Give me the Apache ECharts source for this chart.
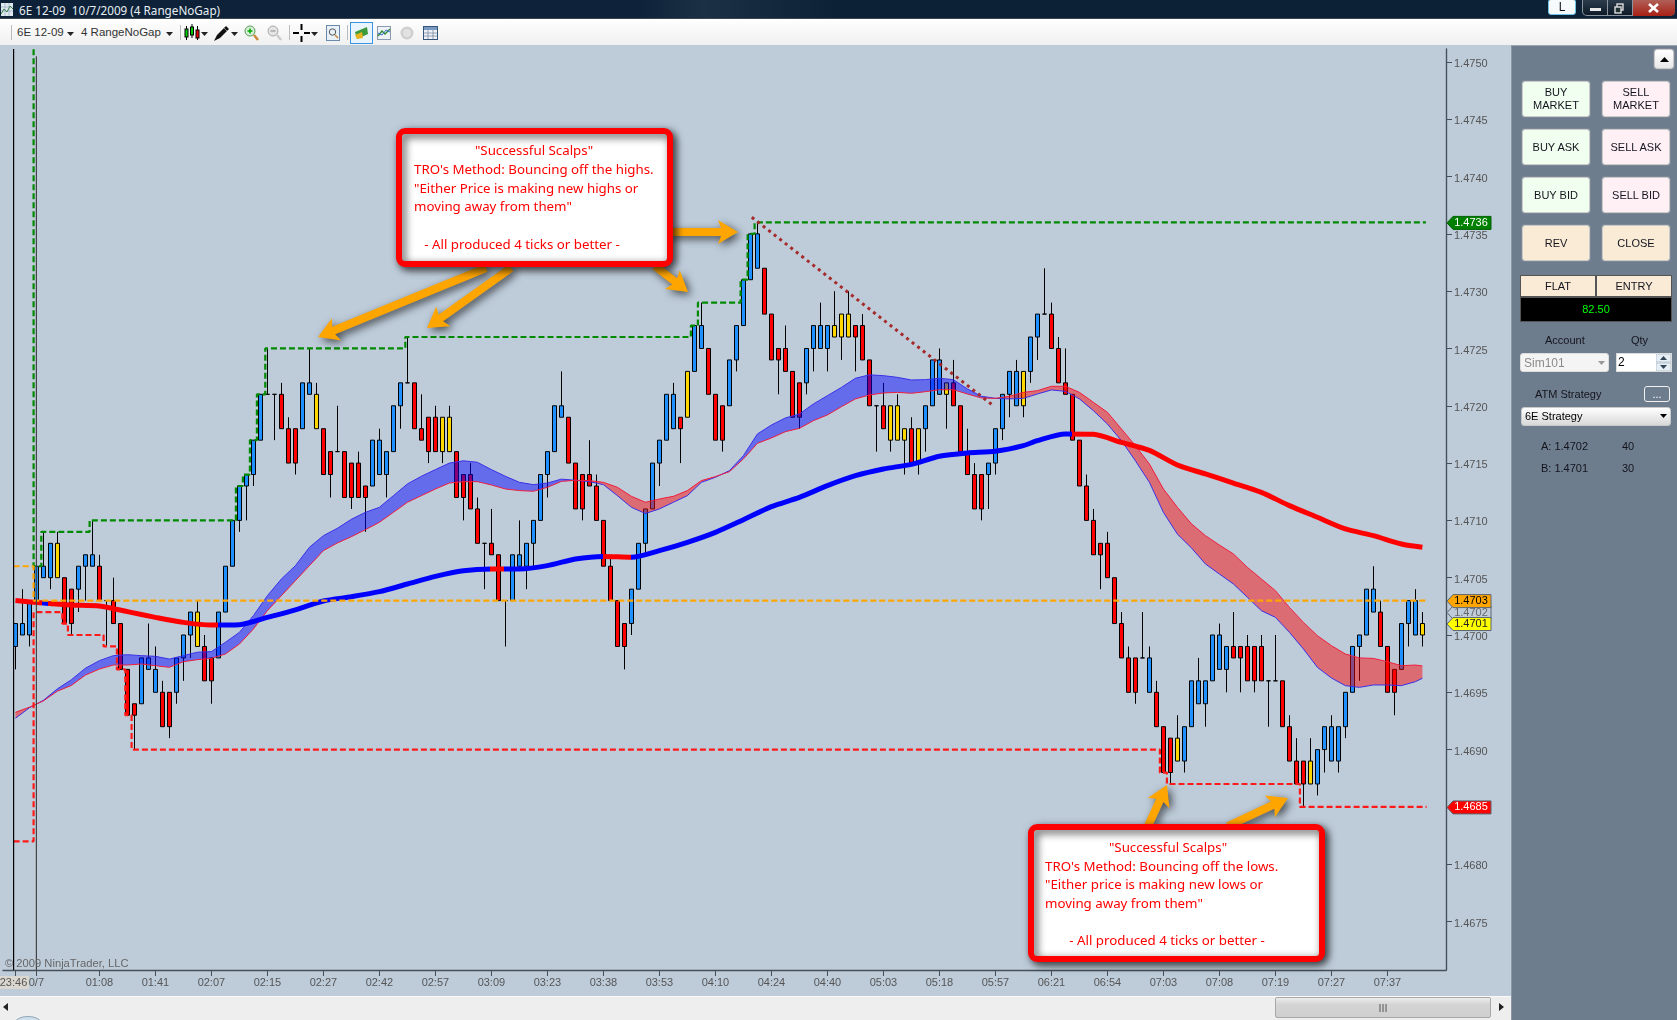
<!DOCTYPE html>
<html><head><meta charset="utf-8">
<script src="https://cdn.jsdelivr.net/npm/echarts@6/dist/echarts.min.js"></script>
<style>
html,body{margin:0;padding:0;width:1677px;height:1020px;overflow:hidden;background:#BECCDA;font-family:"Liberation Sans",Arial,sans-serif}
#chart{position:absolute;left:0;top:0;width:1677px;height:1020px;z-index:1}
.c{position:absolute;z-index:2;box-sizing:border-box}
.t{position:absolute;z-index:3;white-space:nowrap;color:#14141e;font-size:11px;line-height:13px}
.t svg{display:block}
.b{position:absolute;z-index:3;box-sizing:border-box;border:1px solid #c9c9c9;border-radius:3px;box-shadow:0 0 0 1px #7c8896;color:#14141e;font-size:11px;line-height:13px;text-align:center;display:flex;align-items:center;justify-content:center}
</style></head><body>
<div id="chart"></div>
<div id="chrome"></div>
<script>
// ---- values (price = 1.4700 + ticks/10000) ----
const priceBase = 1.47;
const openTicks = [
-1,0,0,3,5,5,5,5,4,4, 6,6,6,3,3,1,-3,-6,-6,-3, -5,-5,-5,-5,-2,0,-1,-1,-2,-2,
2,6,10,13,14,17,21,21,21,18, 18,18,21,18,18,16,16,16,15,15, 13,13,14,14,16,20,22,22,18,19,
19,16,16,16,14,14,11,8,8,7, 3,3,6,6,8,10,14,16,19,19, 15,14,14,13,10,6,3,1,1,4,
8,11,15,17,18,19,19,23,25,25, 21,20,20,24,27,31,32,32,28,25, 25,23,22,22,25,25,25,26,26,26,
27,27,24,20,20,17,17,17,18,15, 18,20,21,21,22,20,16,14,14,14, 15,18,21,20,20,23,26,28,28,25,
22,21,17,13,10,8,8,5,1,-2, -2,-2,-5,-5,-8,-9,-11,-11,-8,-6, -6,-4,-3,-3,-1,-1,-1,-1,-1,-4,
-4,-4,-8,-11,-11,-13,-13,-10,-11,-11, -8,-5,-1,0,2,2,-1,-3,-3,1, 0,1];
const closeTicks = [
1,1,3,6,6,8,8,1,1,6, 7,7,3,3,1,-3,-7,-7,-2,-2, -3,-8,-8,-2,0,2,2,-4,-4,2,
6,10,13,14,17,21,21,21,18,15, 15,22,22,21,14,14,16,12,12,12, 12,17,17,16,20,22,22,18,17,16,
16,19,19,12,12,11,8,8,7,3, 3,7,7,8,10,14,16,20,20,15, 11,11,13,10,6,3,-1,-1,4,8,
11,15,17,21,21,18,23,27,27,21, 17,17,24,27,31,35,35,28,24,24, 23,19,19,25,27,27,27,27,28,28,
26,24,20,20,18,20,20,18,15,18, 20,24,24,22,20,16,14,11,11,15, 18,21,23,23,23,26,28,28,25,22,
21,17,13,10,7,7,5,1,-2,-5, -5,-2,-2,-8,-12,-12,-9,-8,-4,-4, -4,0,0,-1,-2,-2,-4,-4,-4,-4,
-4,-8,-11,-13,-13,-11,-10,-8,-8,-8, -5,-1,0,4,4,-1,-5,-5,1,3, 3,0];
const highTicks = [
1,4,3,6,9,8,9,5,4,6, 7,10,7,3,5,1,-3,-6,-2,1, -1,-4,-5,-2,0,2,3,0,-2,2,
6,10,13,14,17,21,25,21,22,19, 18,22,25,22,18,16,20,16,15,16, 13,17,18,16,20,22,26,22,21,19,
20,19,20,16,14,15,12,8,11,7, 3,7,10,8,10,14,16,20,23,19, 15,14,17,14,10,7,3,1,4,8,
11,15,17,21,22,19,23,27,29,25, 21,20,24,27,31,35,36,32,28,25, 27,23,22,25,27,29,27,30,28,30,
27,28,24,20,22,20,21,18,19,18, 20,24,25,22,24,20,18,15,14,15, 18,21,23,24,23,26,28,32,29,26,
25,21,17,14,11,8,9,5,2,-1, -2,2,-1,-4,-8,-9,-7,-8,-4,-2, -4,0,1,-1,2,-1,0,-1,0,-4,
0,-4,-7,-9,-11,-9,-10,-8,-7,-8, -5,-1,0,4,6,3,-1,-3,1,3, 4,2];
const lowTicks = [
-3,0,-1,3,5,4,5,1,0,2, 3,6,3,-1,1,-3,-7,-10,-6,-3, -5,-8,-9,-6,-4,-2,-1,-4,-6,-2,
2,6,9,10,13,17,21,17,18,15, 14,18,21,18,14,12,16,12,11,12, 9,13,14,12,16,18,22,18,17,15,
16,15,16,12,10,11,8,4,7,3, -1,3,6,4,6,10,12,16,19,15, 11,10,13,10,6,3,-1,-3,0,4,
7,11,13,17,18,15,19,23,25,21, 17,16,20,23,27,31,32,28,24,21, 23,19,18,21,23,25,23,26,24,26,
23,24,20,16,18,16,17,14,15,14, 16,20,21,18,20,16,14,11,10,11, 14,17,19,20,19,22,24,28,25,22,
21,17,13,10,7,4,5,1,-2,-5, -6,-2,-5,-8,-12,-13,-11,-12,-8,-6, -8,-4,-3,-5,-2,-5,-4,-5,-4,-8,
-4,-8,-11,-13,-15,-13,-14,-12,-11,-12, -9,-5,-4,0,2,-1,-5,-7,-3,-1, 0,-1];
const goldBars = [6,26,43,61,62,96,117,118,119,125,126,127,129,133,144,166,185,201];

const tickBars = [0,3,12,20,28,36,44,52,60,68,76,84,92,100,108,116,124,132,140,148,156,164,172,180,188,196];
const tickLabels = ['23:46','0/7','01:08','01:41','02:07','02:15','02:27','02:42','02:57','03:09','03:23','03:38','03:53','04:10','04:24','04:40','05:03','05:18','05:57','06:21','06:54','07:03','07:08','07:19','07:27','07:37'];
const priceTicks = [1.4750,1.4745,1.4740,1.4735,1.4730,1.4725,1.4720,1.4715,1.4710,1.4705,1.4700,1.4695,1.4690,1.4685,1.4680,1.4675];

// ribbon edges, sampled at these bars
const bandBars = [0,2,4,6,8,10,12,14,16,18,20,22,24,26,28,30,32,34,36,38,40,42,44,46,48,50,52,54,56,58,60,62,64,66,68,70,72,74,76,78,80,82,84,86,88,90,92,94,96,98,100,102,104,106,108,110,112,114,116,118,120,122,124,126,128,130,132,134,136,138,140,142,144,146,148,150,152,154,156,158,160,162,164,166,168,170,172,174,176,178,180,182,184,186,188,190,192,194,196,198,200,201];
const bandFast = [-7.27,-6.35,-5.7,-4.7,-3.9,-2.9,-2.24,-1.8,-1.72,-1.8,-1.86,-2.1,-1.8,-1.5,-1.45,-.64,.23,1.69,3.43,4.89,6.05,7.65,8.67,9.31,10.1,10.7,11.14,12.16,13.18,13.85,14.43,15,15.2,15.07,14.43,13.85,13.32,13.12,13.26,13.6,13.5,13.38,13.12,12.16,11.14,10.6,11,11.58,12.16,13.32,13.76,14.34,15.65,17.54,18.32,18.94,19.28,20.16,20.88,21.6,22.4,22.7,22.63,22.48,22.25,22.28,22.4,22.28,21.47,20.83,20.65,20.6,20.65,21.03,21.38,21.26,20.6,19.57,18.41,16.96,15.2,13.32,10.7,8.8,7.6,6.2,5.32,4.45,3.29,2.12,1.54,.23,-1.22,-2.82,-3.75,-4.42,-4.57,-4.36,-4.36,-4.42,-4.07,-3.78];
const bandSlow = [-6.75,-6.3,-5.75,-4.9,-4.4,-3.5,-2.97,-2.62,-2.62,-2.53,-2.68,-2.82,-2.33,-2.15,-2.04,-1.66,-.79,.52,2.12,3.43,4.74,6.05,7.36,8.03,8.58,9.19,9.83,10.7,11.58,12.16,12.74,13.26,13.38,13.38,13.09,12.74,12.6,12.54,12.89,13.4,13.5,13.47,13.32,12.89,12.1,11.58,11.87,12.1,12.6,13.47,13.82,14.25,15.36,16.72,17.19,17.74,18.03,18.7,19.2,19.92,20.6,20.94,21.12,21.17,21.09,21.23,21.4,21.4,21.03,20.68,20.65,20.83,21.17,21.32,21.7,21.7,21.17,20.3,19.43,17.98,16.52,14.92,12.74,11.14,9.7,8.67,7.85,7.07,5.9,4.89,3.87,2.41,1.1,-.06,-.93,-1.66,-2,-2.04,-2.33,-2.68,-2.62,-2.7];

// thick moving average, sampled at these bars
const maBars = [0,4,8,12,16,20,24,28,32,36,40,44,48,52,56,60,64,68,72,76,80,84,88,92,96,100,104,108,112,116,120,124,128,132,136,140,144,146,150,154,158,162,166,170,174,178,182,186,190,194,198,201];
const maTicks = [3,2.79,2.62,2.53,2.04,1.54,1.1,.87,.9,1.54,2.2,2.97,3.34,3.78,4.45,5.12,5.61,5.76,5.76,6.05,6.63,6.86,6.78,7.36,8.09,8.96,10.06,11.2,12.01,13.03,13.9,14.49,14.89,15.59,15.88,16.03,16.52,16.96,17.54,17.51,16.81,16.11,14.83,14.05,13.26,12.45,11.29,10.27,9.25,8.67,7.94,7.65];

// stepped high / low / reference levels: bar and level in ticks
const highStepBars = [2.6,2.6,3.7,10.6,31.5,32.5,33.5,34.5,35.7,55.7,96.5,97.5,103.6,104.6,105.6,201.5];
const highStepTicks = [51.1,6,9,10,13,14,17,21,25,26,27,29,31,35,36,36];
const lowStepBars = [-0.25,2.6,6.7,7.5,12.6,14.5,15.7,16.6,163.5,164.5,183.5,201.6];
const lowStepTicks = [-18,2,1,0,-1,-3,-7,-10,-12,-13,-15,-15];
const refStepBars = [-0.25,2.6,201.6];
const refStepTicks = [6,3,3];
const trendBars = [105.2,139.8];
const trendTicks = [36.45,19.96];

const tagPrices = [1.4736,1.4702,1.4703,1.4701,1.4685];
const tagFills  = ['#008000','#BECCDA','#FFA500','#FFFF00','#FF0000'];
const tagInk    = ['#fff','#666','#000','#222','#fff'];

const topNote = ['"Successful Scalps"',"TRO's Method: Bouncing off the highs.",'"Either Price is making new highs or','moving away from them"','- All produced 4 ticks or better -'];
const lowNote = ['"Successful Scalps"',"TRO's Method: Bouncing off the lows.",'"Either price is making new lows or','moving away from them"','- All produced 4 ticks or better -'];

// ---- helpers ----
const P = n => priceBase + n/10000;
const zip = (xs,ns) => xs.map((x,k)=>[x,P(ns[k])]);
const FONT = '"Liberation Sans",Arial,sans-serif';
const xMin = -1.771, xMax = 204.37, yMin = 1.467077, yMax = 1.475113;

const candleData = openTicks.map((o,i)=>{
  const gold = goldBars.includes(i);
  const item = {value:[i,P(o),P(closeTicks[i]),P(lowTicks[i]),P(highTicks[i])]};
  if(gold) item.itemStyle={color:'#FFD700',color0:'#FFD700'};
  return item;
});

// ribbon runs: one polygon per stretch with the same edge on top
const runs=[]; (function(){
  let cur=null;
  bandBars.forEach((b,k)=>{
    const a=bandFast[k], s=bandSlow[k], up=a>=s;
    if(cur && cur.up!==up){
      const pb=bandBars[k-1], pa=bandFast[k-1], ps=bandSlow[k-1];
      const d0=pa-ps, d1=a-s, t=d0/(d0-d1);
      const cx=pb+(b-pb)*t, cy=pa+(a-pa)*t;
      cur.f.push([cx,P(cy)]); cur.s.push([cx,P(cy)]);
      runs.push(cur);
      cur={up,f:[[cx,P(cy)]],s:[[cx,P(cy)]]};
    }
    if(!cur) cur={up,f:[],s:[]};
    cur.f.push([b,P(a)]); cur.s.push([b,P(s)]);
  });
  runs.push(cur);
})();

const maSeg=[{lt:3.8,color:'#F00'},{gte:3.8,lt:4.7,color:'#00F'},{gte:4.7,lt:28.9,color:'#F00'},{gte:28.9,lt:67.8,color:'#00F'},{gte:67.8,lt:69.8,color:'#F00'},{gte:69.8,lt:83.9,color:'#00F'},{gte:83.9,lt:87.9,color:'#F00'},{gte:87.9,lt:150.9,color:'#00F'},{gte:150.9,color:'#F00'}];

function stepLine(data,color){return {type:'line',step:'end',data,symbol:'none',silent:true,clip:false,z:6,
  lineStyle:{color,width:2.2,type:[6,3]}};}

// annotation arrow outline
function arrow(a,b){
  const dx=b[0]-a[0],dy=b[1]-a[1],L=Math.hypot(dx,dy),ux=dx/L,uy=dy/L,nx=-uy,ny=ux;
  const w=4,hw=12,hl=20,bk=b[0]-ux*hl,bky=b[1]-uy*hl;
  const inner=3;
  const pt=(x,y,n)=>[x+nx*n,y+ny*n];
  return {type:'polygon',z:20,silent:true,shape:{points:[
    pt(a[0],a[1],w),pt(bk+ux*inner,bky+uy*inner,w),pt(bk,bky,hw),b,pt(bk,bky,-hw),pt(bk+ux*inner,bky+uy*inner,-w),pt(a[0],a[1],-w)]},
    style:{fill:'#FFA500',shadowBlur:8,shadowOffsetX:3,shadowOffsetY:3,shadowColor:'rgba(0,0,0,.65)'}};
}
function note(x,y,w,h,lines,pos){
  const els=[{type:'rect',z:30,silent:true,shape:{x:x+3,y:y+3,width:w-6,height:h-6,r:6},
    style:{fill:'#fff',stroke:'#FF0000',lineWidth:6,shadowBlur:9,shadowOffsetX:3,shadowOffsetY:3,shadowColor:'rgba(0,0,0,.7)'}}];
  lines.forEach((s,k)=>els.push({type:'text',z:31,silent:true,style:{text:s,x:pos[k][0],y:pos[k][1],fill:'#FF0000',
    font:'13.3px "Noto Sans",sans-serif',textAlign:pos[k][2]||'left',textVerticalAlign:'middle'}}));
  return els;
}

const graphics=[
  arrow([486,268],[318,337]),arrow([511,268],[427,328]),arrow([668,232],[738,232]),arrow([655,266],[688,292]),
  arrow([1148,826],[1167,785]),arrow([1228,826],[1288,798]),
  ...note(396,128,277,139,topNote,[[534,151,'center'],[414,170],[414,189],[414,207],[522,245,'center']]),
  ...note(1028,824,297,138,lowNote,[[1168,848,'center'],[1045,867],[1045,885],[1045,904],[1167,941,'center']]),
  {type:'text',z:8,silent:true,style:{text:'© 2009 NinjaTrader, LLC',x:5,y:964,fill:'#666',font:'11.2px '+FONT,textVerticalAlign:'middle'}}
];

const chart=echarts.init(document.getElementById('chart'),null,{renderer:'canvas',width:1677,height:1020});
chart.setOption({
  animation:false,backgroundColor:'transparent',tooltip:{show:false},legend:{show:false},
  graphic:graphics,
  grid:{left:3,top:49,width:1443,height:921,containLabel:false,outerBoundsMode:'none'},
  visualMap:[{show:false,type:'piecewise',seriesIndex:4,dimension:0,pieces:maSeg}],
  xAxis:{type:'value',min:xMin,max:xMax,splitLine:{show:false},
    axisLine:{onZero:false,lineStyle:{color:'#46505a',width:1.4}},
    axisTick:{length:6,customValues:tickBars,lineStyle:{color:'#46505a',width:1}},
    axisLabel:{customValues:tickBars.slice(1),margin:7,fontFamily:FONT,fontSize:11,color:'#555',hideOverlap:false,showMinLabel:true,showMaxLabel:true,
      formatter:v=>tickLabels[tickBars.indexOf(v)]}},
  yAxis:{type:'value',position:'right',min:yMin,max:yMax,splitLine:{show:false},
    axisLine:{show:true,onZero:false,lineStyle:{color:'#46505a',width:1.4}},
    axisTick:{show:true,length:6,customValues:priceTicks,lineStyle:{color:'#46505a',width:1}},
    axisLabel:{customValues:priceTicks,margin:8,showMinLabel:true,showMaxLabel:true,formatter:v=>'{v|'+v.toFixed(4)+'}',
      rich:{v:{fontFamily:FONT,fontSize:11,color:'#555',padding:[4,0,0,0]}}}},
  series:[
    {type:'candlestick',data:candleData,barWidth:4,z:2,silent:true,
      itemStyle:{color:'#1E90FF',color0:'#FF0000',borderColor:'#000',borderColor0:'#000',borderColorDoji:'#000',borderWidth:1}},
    {type:'custom',z:3,silent:true,data:runs.map(r=>r.f[0]),
      renderItem:(params,api)=>{const r=runs[params.dataIndex];
        const pts=r.f.concat(r.s.slice().reverse()).map(p=>api.coord(p));
        return {type:'polygon',shape:{points:pts},style:{fill:r.up?'rgba(0,0,255,.47)':'rgba(255,0,0,.47)'}};}},
    {type:'line',data:zip(bandBars,bandFast),symbol:'none',z:4,silent:true,lineStyle:{color:'#3A2FE8',width:1}},
    {type:'line',data:zip(bandBars,bandSlow),symbol:'none',z:4,silent:true,lineStyle:{color:'#F01C3C',width:1}},
    {type:'line',data:zip(maBars,maTicks),symbol:'none',smooth:.25,z:5,silent:true,lineStyle:{width:5,cap:'butt'}},
    stepLine(zip(highStepBars,highStepTicks),'#008A00'),
    stepLine(zip(lowStepBars,lowStepTicks),'#FF1A1A'),
    stepLine(zip(refStepBars,refStepTicks),'#FFA500'),
    {type:'line',data:zip(trendBars,trendTicks),symbol:'none',z:7,silent:true,lineStyle:{color:'#A52A2A',width:3,type:[3,4]}},
    {type:'line',data:[[-0.257,1.475113],[-0.257,yMin]],symbol:'none',z:7,silent:true,lineStyle:{color:'#000',width:1.2}},
    {type:'line',data:[[3,1.47505],[3,yMin]],symbol:'none',z:7,silent:true,lineStyle:{color:'#444',width:1.2}},
    {type:'custom',z:9,silent:true,clip:false,data:tagPrices.map(p=>[xMax,p]),
      renderItem:(params,api)=>{const k=params.dataIndex,c=api.coord([xMax,tagPrices[k]]);
        const x=c[0]+1,y=c[1]+.5,h=6.5,w=44;
        return {type:'group',children:[
          {type:'polygon',shape:{points:[[x,y],[x+6,y-h],[x+w,y-h],[x+w,y+h],[x+6,y+h]]},style:{fill:tagFills[k],stroke:k===0?'#006000':'#5a6570',lineWidth:1}},
          {type:'text',style:{text:tagPrices[k].toFixed(4),x:x+24,y:y,fill:tagInk[k],font:'11px '+FONT,textAlign:'center',textVerticalAlign:'middle'}}]};}},
    // first time label sits on a pale plate and would collide with its neighbour in the axis label pass
    {type:'custom',z:9,silent:true,clip:false,data:[[tickBars[0],yMin]],
      renderItem:(params,api)=>{const c=api.coord([tickBars[0],yMin]);
        return {type:'group',children:[
          {type:'rect',shape:{x:0,y:c[1]+6,width:29,height:13},style:{fill:'#DAD7D0'}},
          {type:'text',style:{text:tickLabels[0],x:13.5,y:c[1]+13,fill:'#555',font:'11px '+FONT,textAlign:'center',textVerticalAlign:'middle'}}]};}}
  ]
});

// ---- window chrome ----
const host=document.getElementById('chrome');
function box(x,y,w,h,css){const d=document.createElement('div');d.className='c';d.style.cssText+=`left:${x}px;top:${y}px;width:${w}px;height:${h}px;${css||''}`;host.appendChild(d);return d;}
function txt(x,y,s,css){const d=document.createElement('div');d.className='t';d.textContent=s;d.style.cssText+=`left:${x}px;top:${y-6.5}px;${css||''}`;host.appendChild(d);return d;}
function btn(x,y,w,h,s,fill){const d=document.createElement('div');d.className='b';d.innerHTML=s;d.style.cssText+=`left:${x}px;top:${y}px;width:${w}px;height:${h}px;background:${fill};`;host.appendChild(d);return d;}
function svg(x,y,w,h,inner){const d=document.createElement('div');d.className='t';d.style.cssText+=`left:${x}px;top:${y}px;width:${w}px;height:${h}px;`;d.innerHTML=`<svg width="${w}" height="${h}" viewBox="0 0 ${w} ${h}">${inner}</svg>`;host.appendChild(d);}
const tri=(x,y,c)=>svg(x,y,7,4,`<path d="M0 0H7L3.5 4Z" fill="${c||'#222'}"/>`);

box(0,0,1677,18,'background:linear-gradient(90deg,#0d2238 0,#0e2339 38%,#1b3045 42%,#0c2036 50%,#0c2036 100%)');
box(0,18,1677,1,'background:#3a4650');
box(0,19,1677,26,'background:linear-gradient(#fff,#f0f0f0)');
txt(19,10,'6E 12-09  10/7/2009 (4 RangeNoGap)','color:#e8eef4;font:11.7px "Noto Sans",sans-serif;white-space:pre;line-height:13px');
svg(1,3,12,13,'<rect width="12" height="13" fill="#dfe8ee"/><path d="M0 11L3 6L6 9L9 3L12 6" stroke="#2a7a2a" fill="none"/><path d="M0 8H12M0 4H12M4 0V13M8 0V13" stroke="#7f96b0" stroke-width=".5"/>');
txt(17,32,'6E 12-09','color:#333;font-size:11.5px');tri(67,32);
txt(81,32,'4 RangeNoGap','color:#333;font-size:11.5px');tri(166,32);
box(11,25,1,15,'background:#bbb');box(180,25,1,15,'background:#bbb');box(289,25,1,15,'background:#bbb');box(347,25,1,15,'background:#bbb');
svg(184,24,16,18,'<path d="M2.5 2V16M8 0V14M13.5 2V16" stroke="#000"/><rect x="1" y="5" width="3" height="8" fill="#0c0" stroke="#000"/><rect x="6.5" y="3" width="3" height="8" fill="#0c0" stroke="#000"/><rect x="12" y="6" width="3" height="8" fill="#e00" stroke="#000"/>');tri(201,32);
svg(213,25,17,17,'<path d="M1 16L4 10L13 1L16 4L7 13Z" fill="#111"/><path d="M11 3L14 6" stroke="#888"/>');tri(231,32);
svg(244,25,15,16,'<circle cx="6" cy="6" r="5" fill="#d8f0d8" stroke="#5a9a5a"/><path d="M3.5 6H8.5M6 3.5V8.5" stroke="#0a0" stroke-width="1.5"/><path d="M10 10L14 15" stroke="#c98a3a" stroke-width="2.5"/>');
svg(267,25,15,16,'<circle cx="6" cy="6" r="5" fill="#e4e4e4" stroke="#aaa"/><path d="M3.5 6H8.5" stroke="#aaa" stroke-width="1.5"/><path d="M10 10L14 15" stroke="#ccc" stroke-width="2.5"/>');
svg(293,24,17,18,'<path d="M0 9H6M11 9H17M8.5 0V6M8.5 12V18" stroke="#000" stroke-width="2"/>');tri(311,32);
svg(326,25,14,16,'<rect x=".5" y=".5" width="13" height="15" fill="#e8f0f8" stroke="#6a88a8"/><circle cx="6.5" cy="7" r="3.2" fill="none" stroke="#555"/><path d="M9 10L12 13" stroke="#c98a3a" stroke-width="1.5"/>');
box(350,22,23,22,'background:#eaf4fc;border:1px solid #3a94e0');
svg(354,26,15,14,'<path d="M1 6L13 1L14 8L3 13Z" fill="#3c9a3c"/><path d="M1 9L8 6L9 12L3 13Z" fill="#e6b422"/>');
svg(377,26,14,14,'<rect x=".5" y=".5" width="13" height="13" fill="#eef2f6" stroke="#8a9ab0"/><path d="M1 10L5 5L8 8L13 3" stroke="#2a8a2a" fill="none" stroke-width="1.3"/><path d="M1 7L5 9L9 4L13 6" stroke="#3a6ad0" fill="none"/>');
svg(400,26,14,14,'<circle cx="7" cy="7" r="6.5" fill="#cfcfcf"/><circle cx="7" cy="7" r="4" fill="#e2e2e2"/>');
svg(423,26,15,14,'<rect x=".5" y=".5" width="14" height="13" fill="#eef2f8" stroke="#33557a"/><rect x="1" y="1" width="13" height="3" fill="#7a9ac0"/><path d="M1 7H14M1 10H14M5 4V13M10 4V13" stroke="#7a8aa0" stroke-width=".8"/>');
// window buttons
btn(1548,-1,28,16,'L','#f7fafc').style.cssText+='border:1px solid #6cc3e8;box-shadow:none;font-size:12px;';
box(1582,0,93,16,'background:linear-gradient(#2c3c4c,#0e1a26);border:1px solid #8a949e;border-top:none;border-radius:0 0 5px 5px');
box(1632,0,43,16,'background:linear-gradient(#b06058,#a82014);border-radius:0 0 5px 0');
box(1607,0,1,16,'background:#8a949e');box(1632,0,1,16,'background:#8a949e');
box(1590,8,11,3,'background:#e8e8e8');
svg(1614,3,11,11,'<rect x="3" y="1" width="6" height="6" fill="none" stroke="#ddd" stroke-width="1.4"/><rect x="1" y="4" width="6" height="6" fill="#233" stroke="#ddd" stroke-width="1.4"/>');
svg(1648,3,11,10,'<path d="M1 1L10 9M10 1L1 9" stroke="#fff" stroke-width="2.6"/>');
// bottom strip and scrollbar
box(0,996,1511,24,'background:#eeeeee;border-top:1px solid #fafafa');
box(1275,997,216,21,'background:linear-gradient(#ececec,#d4d4d4 35%,#cfcfcf);border:1px solid #a8a8a8;border-radius:2px');
svg(1379,1004,9,8,'<path d="M1 0V8M4 0V8M7 0V8" stroke="#555"/>');
svg(3,1003,5,8,'<path d="M5 0V8L0 4Z" fill="#222"/>');svg(1499,1003,5,8,'<path d="M0 0V8L5 4Z" fill="#222"/>');
svg(14,1016,28,4,'<ellipse cx="14" cy="7" rx="13" ry="6.5" fill="#cfe0ec" stroke="#8fa6b8"/>');
// right panel
box(1511,45,166,975,'background:#6E7D8D;border-left:1px solid #8a96a2;border-top:1px solid #9aa4ae');
btn(1654,49,20,20,'<svg width="9" height="5"><path d="M0 5H9L4.5 0Z" fill="#000"/></svg>','linear-gradient(#fff,#e8e8e8)');
const G='#F0FFF0',R='#FFF0F5',A='#FAEBD7';
btn(1522,81,68,36,'BUY<br>MARKET',G);btn(1602,81,68,36,'SELL<br>MARKET',R);
btn(1522,129,68,36,'BUY ASK',G);btn(1602,129,68,36,'SELL ASK',R);
btn(1522,177,68,36,'BUY BID',G);btn(1602,177,68,36,'SELL BID',R);
btn(1522,225,68,36,'REV',A);btn(1602,225,68,36,'CLOSE',A);
const f1=btn(1520,275,76,22,'FLAT',A),f2=btn(1596,275,76,22,'ENTRY',A);
[f1,f2].forEach(d=>d.style.cssText+='border:1px solid #555;border-radius:0;box-shadow:none;');
const lcd=btn(1520,297,152,25,'82.50','#000');lcd.style.cssText+='border:1px solid #555;border-radius:0;box-shadow:none;color:#00FF00;';
txt(1545,340,'Account');txt(1631,340,'Qty');
const acc=btn(1520,353,89,19,'','#f4f4f4');acc.style.cssText+='box-shadow:none;border:1px solid #ddd;';
txt(1524,363,'Sim101','color:#8a8a8a;font-size:12px');tri(1598,361,'#999');
const qty=btn(1616,353,56,19,'','#fff');qty.style.cssText+='box-shadow:none;border:1px solid #ddd;border-radius:0;';
txt(1618,362,'2','color:#000;font-size:12px');
svg(1656,354,15,17,'<rect width="15" height="8" fill="#e6eef6" stroke="#b8c4d0"/><rect y="9" width="15" height="8" fill="#e6eef6" stroke="#b8c4d0"/><path d="M4 6H11L7.5 2Z" fill="#345"/><path d="M4 11H11L7.5 15Z" fill="#345"/>');
txt(1535,394,'ATM Strategy');
const dots=btn(1644,386,26,16,'...','#6E7D8D');dots.style.cssText+='border:1.5px solid #f0f0f0;box-shadow:none;color:#fff;';
const dd=btn(1521,407,150,19,'','linear-gradient(#fff,#d8d8d8)');dd.style.cssText+='box-shadow:none;';
txt(1525,416,'6E Strategy','color:#000');tri(1660,414,'#000');
txt(1541,446,'A: 1.4702');txt(1622,446,'40');txt(1541,468,'B: 1.4701');txt(1622,468,'30');
</script></body></html>
